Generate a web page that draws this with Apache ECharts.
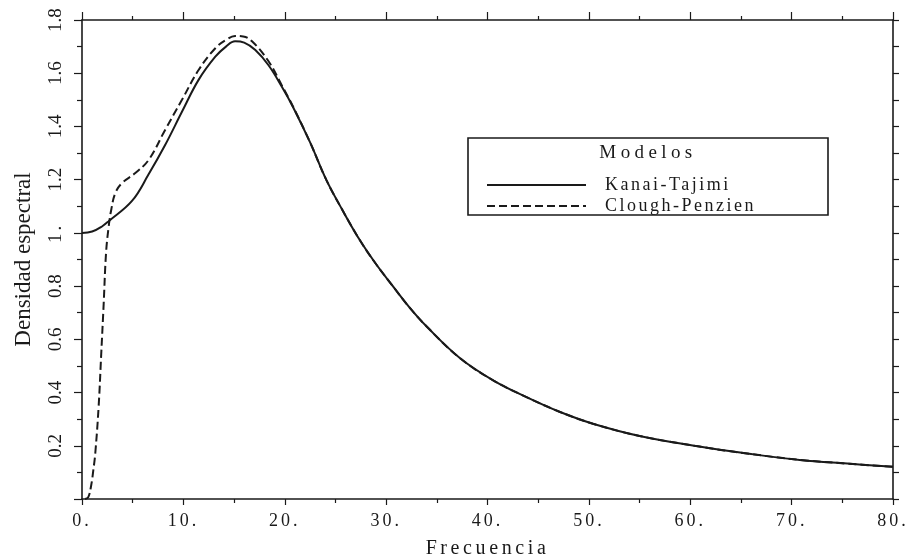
<!DOCTYPE html>
<html>
<head>
<meta charset="utf-8">
<script src="https://cdn.jsdelivr.net/npm/echarts@6/dist/echarts.min.js"></script>
<style>
html,body{margin:0;padding:0;background:#fff;}
#chart{width:909px;height:557px;}
</style>
</head>
<body>
<div id="chart"></div>
<script>
// Kanai-Tajimi spectral density
const ktFreq = [0, 1, 2, 2.66, 4.93, 6.57, 8.2, 9.86, 11.5, 13.15, 14.2, 15.1, 16.0, 17.1, 18.4, 19.7, 20.8, 22.5, 24.1, 25.7, 27.4, 29, 30.7, 32.3, 34, 37.3, 40.6, 43.9, 47.1, 50.4, 55, 60.9, 65.8, 70.8, 75.5, 80];
const ktDens = [1.0, 1.005, 1.025, 1.045, 1.12, 1.22, 1.33, 1.455, 1.575, 1.662, 1.70, 1.72, 1.715, 1.687, 1.63, 1.55, 1.474, 1.34, 1.199, 1.085, 0.973, 0.883, 0.798, 0.72, 0.648, 0.529, 0.445, 0.382, 0.328, 0.283, 0.237, 0.197, 0.17, 0.147, 0.133, 0.121];
// Clough-Penzien spectral density
const cpFreq = [0.3, 0.62, 0.9, 1.12, 1.31, 1.64, 1.9, 2.14, 2.37, 2.63, 2.9, 3.29, 3.94, 5.26, 6.57, 8.2, 9.86, 11.5, 13.15, 14.2, 15.1, 15.9, 16.77, 18.4, 19.7, 20.8, 22.5, 24.1, 25.7, 27.4, 29, 30.7, 32.3, 34, 37.3, 40.6, 43.9, 47.1, 50.4, 55, 60.9, 65.8, 70.8, 75.5, 80];
const cpDens = [0, 0.007, 0.05, 0.109, 0.172, 0.347, 0.548, 0.735, 0.923, 1.023, 1.09, 1.15, 1.187, 1.225, 1.274, 1.387, 1.5, 1.612, 1.694, 1.725, 1.74, 1.738, 1.72, 1.645, 1.555, 1.476, 1.34, 1.199, 1.085, 0.973, 0.883, 0.798, 0.72, 0.648, 0.529, 0.445, 0.382, 0.328, 0.283, 0.237, 0.197, 0.17, 0.147, 0.133, 0.121];
// tick labels
const xLabels = ['0.', '10.', '20.', '30.', '40.', '50.', '60.', '70.', '80.'];
const yLabels = ['', '0.2', '0.4', '0.6', '0.8', '1.', '1.2', '1.4', '1.6', '1.8'];
const seriesNames = ['Kanai-Tajimi', 'Clough-Penzien'];
const legendTitle = 'Modelos';

const serif = "'Liberation Serif', 'Times New Roman', serif";
const ink = '#1a1a1a';

// letter spacing of the typewriter-like texts (style only)
function spacingFor(s) {
  if (/^\d+\.$/.test(s)) return 3;
  if (s === 'Frecuencia') return 3.6;
  if (s === legendTitle) return 4.4;
  if (seriesNames.indexOf(s) >= 0) return 2.5;
  return 0;
}
(function () {
  const proto = CanvasRenderingContext2D.prototype;
  const origFill = proto.fillText;
  if (!('letterSpacing' in proto)) return;
  function setSpacing(ctx, v) {
    const f = ctx.font;
    ctx.letterSpacing = v;
    ctx.font = '10px monospace';
    ctx.font = f;
  }
  proto.fillText = function (t, x, y, w) {
    const sp = spacingFor(String(t));
    setSpacing(this, sp + 'px');
    const r = w === undefined ? origFill.call(this, t, x, y) : origFill.call(this, t, x, y, w);
    setSpacing(this, '0px');
    return r;
  };
})();

const chart = echarts.init(document.getElementById('chart'), null, {renderer: 'canvas'});
const axisLine = {show: true, onZero: false, lineStyle: {color: ink, width: 1.6}};
const tickStyle = {color: ink, width: 1.2};

chart.setOption({
  animation: false,
  backgroundColor: '#fff',
  grid: {left: 82, right: 16, top: 20, bottom: 58, containLabel: false, outerBoundsMode: 'none'},
  xAxis: [{
    type: 'value', position: 'bottom', min: 0, max: 80, interval: 10,
    axisLine: axisLine,
    axisTick: {show: true, inside: false, length: 6, lineStyle: tickStyle},
    minorTick: {show: true, splitNumber: 2, length: 4, lineStyle: tickStyle},
    splitLine: {show: false},
    axisLabel: {formatter: v => xLabels[Math.round(v / 10)], fontFamily: serif, fontSize: 18, color: ink, margin: 13},
    name: 'Frecuencia', nameLocation: 'middle', nameGap: 40,
    nameTextStyle: {fontFamily: serif, fontSize: 20, color: ink}
  }, {
    type: 'value', position: 'top', min: 0, max: 80, interval: 10,
    axisLine: axisLine,
    axisTick: {show: true, inside: false, length: 8, lineStyle: tickStyle},
    minorTick: {show: true, splitNumber: 2, length: 4, lineStyle: tickStyle},
    splitLine: {show: false},
    axisLabel: {show: false}
  }],
  yAxis: [{
    type: 'value', position: 'left', min: 0, max: 1.8, interval: 0.2,
    axisLine: axisLine,
    axisTick: {show: true, inside: false, length: 8, lineStyle: tickStyle},
    minorTick: {show: true, splitNumber: 2, length: 5, lineStyle: tickStyle},
    splitLine: {show: false},
    axisLabel: {formatter: v => yLabels[Math.round(v / 0.2)], rotate: 90, fontFamily: serif, fontSize: 19, color: ink, margin: 16},
    name: 'Densidad espectral', nameLocation: 'middle', nameGap: 47, nameRotate: 90,
    nameTextStyle: {fontFamily: serif, fontSize: 23, color: ink}
  }, {
    type: 'value', position: 'right', min: 0, max: 1.8, interval: 0.1,
    axisLine: axisLine,
    axisTick: {show: true, inside: false, length: 6, lineStyle: tickStyle},
    splitLine: {show: false},
    axisLabel: {show: false}
  }],
  legend: {
    data: seriesNames, orient: 'vertical', left: 486, top: 176, padding: 0,
    itemWidth: 99, itemHeight: 14, itemGap: 3,
    itemStyle: {opacity: 0},
    textStyle: {fontFamily: serif, fontSize: 18, color: ink, padding: [0, 0, 0, 14]},
    selectedMode: false
  },
  graphic: [{
    type: 'rect', x: 468, y: 138, z: 10,
    shape: {width: 360, height: 77},
    style: {fill: 'none', stroke: ink, lineWidth: 1.6}
  }, {
    type: 'text', x: 648, y: 153, z: 10,
    style: {text: legendTitle, fontFamily: serif, fontSize: 19, fill: ink, textAlign: 'center', textVerticalAlign: 'middle'}
  }],
  series: [{
    name: seriesNames[0], type: 'line', xAxisIndex: 0, yAxisIndex: 0,
    data: ktFreq.map((f, i) => [f, ktDens[i]]),
    showSymbol: false, symbol: 'none', smooth: 0.4,
    lineStyle: {color: ink, width: 2, type: 'solid'}, itemStyle: {color: ink}
  }, {
    name: seriesNames[1], type: 'line', xAxisIndex: 0, yAxisIndex: 0,
    data: cpFreq.map((f, i) => [f, cpDens[i]]),
    showSymbol: false, symbol: 'none', smooth: 0.4,
    lineStyle: {color: ink, width: 2, type: [8, 4]}, itemStyle: {color: ink}
  }]
});
</script>
</body>
</html>
